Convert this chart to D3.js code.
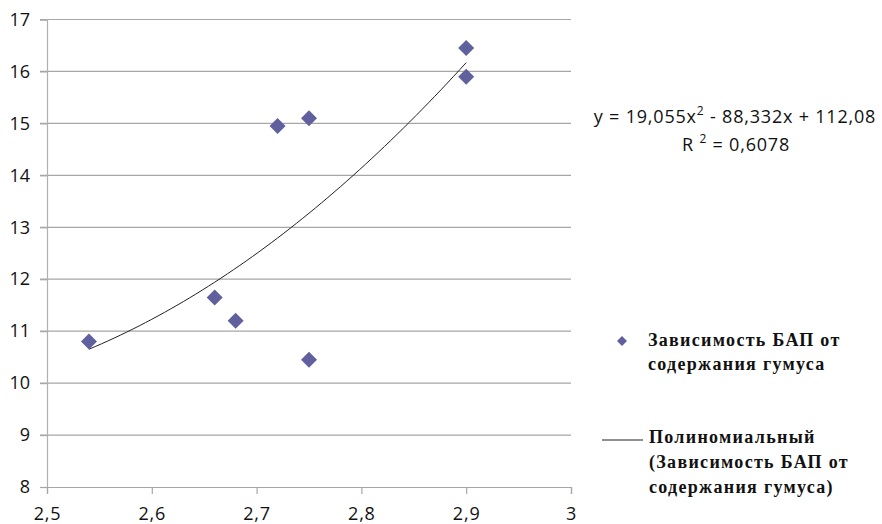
<!DOCTYPE html>
<html><head><meta charset="utf-8">
<script src="https://cdn.jsdelivr.net/npm/d3@7"></script>
<style>
html,body{margin:0;padding:0;background:#fff;}
svg{display:block;}
</style></head>
<body>
<svg id="c" width="882" height="524"></svg>
<script>
const xValues = [2.54, 2.66, 2.68, 2.72, 2.75, 2.75, 2.9, 2.9];
const yValues = [10.8, 11.65, 11.2, 14.95, 15.1, 10.45, 16.45, 15.9];
const xTicks = [2.5, 2.6, 2.7, 2.8, 2.9, 3];
const yTicks = [8, 9, 10, 11, 12, 13, 14, 15, 16, 17];
const trendCoefs = [19.055, -88.332, 112.08];
const equationText = ["y = 19,055x", "2", " - 88,332x + 112,08"];
const r2Text = "0,6078";
const legendSeries = ["Зависимость БАП от", "содержания гумуса"];
const legendTrend = ["Полиномиальный", "(Зависимость БАП от", "содержания гумуса)"];

(function () {
const svg = d3.select("#c");
const pLeft = 47, pRight = 571, pTop = 19.5, pBottom = 487;
const x = d3.scaleLinear().domain([2.5, 3]).range([pLeft, pRight]);
const y = d3.scaleLinear().domain([8, 17]).range([pBottom, pTop]);
const fmt = v => String(v).replace(".", ",");
const sansFont = "'Open Sans', 'Noto Sans', sans-serif";

// gridlines
svg.append("g").selectAll("line").data(yTicks.filter(t => t !== 8)).join("line")
  .attr("x1", pLeft - 7).attr("x2", pRight)
  .attr("y1", d => y(d)).attr("y2", d => y(d))
  .attr("stroke", "#a6a6a6").attr("stroke-width", 1.2);

// y axis
const yAxis = svg.append("g").attr("transform", `translate(${pLeft},0)`)
  .call(d3.axisLeft(y).tickValues(yTicks).tickSize(7).tickPadding(10).tickFormat(fmt));
yAxis.select(".domain").attr("stroke", "#b0b0b0").attr("stroke-width", 1.2);
yAxis.selectAll(".tick line").attr("stroke", "#a6a6a6").attr("stroke-width", 1.2);
yAxis.selectAll("text").attr("font-family", sansFont).attr("font-size", 18).attr("fill", "#111");

// x axis
const xAxis = svg.append("g").attr("transform", `translate(0,${pBottom})`)
  .call(d3.axisBottom(x).tickValues(xTicks).tickSize(7).tickPadding(13).tickFormat(fmt));
xAxis.select(".domain").attr("stroke", "#a6a6a6").attr("stroke-width", 1.2);
xAxis.selectAll(".tick line").attr("stroke", "#a6a6a6").attr("stroke-width", 1.2);
xAxis.selectAll("text").attr("font-family", sansFont).attr("font-size", 18)
  .attr("letter-spacing", 0.8).attr("fill", "#111");

// trendline
const xmin = d3.min(xValues), xmax = d3.max(xValues);
const trendPts = d3.range(0, 61).map(i => {
  const xv = xmin + (xmax - xmin) * i / 60;
  return [xv, trendCoefs[0] * xv * xv + trendCoefs[1] * xv + trendCoefs[2]];
});
svg.append("path").datum(trendPts)
  .attr("d", d3.line().x(d => x(d[0])).y(d => y(d[1])))
  .attr("fill", "none").attr("stroke", "#222").attr("stroke-width", 1);

// points
const pts = xValues.map((v, i) => [v, yValues[i]]);
svg.append("g").selectAll("path").data(pts).join("path")
  .attr("d", d3.symbol().type(d3.symbolSquare).size(128))
  .attr("transform", d => `translate(${x(d[0])},${y(d[1])}) rotate(45)`)
  .attr("fill", "#60609e");

// equation
const eq = svg.append("text").attr("x", 735).attr("y", 123).attr("text-anchor", "middle")
  .attr("font-family", sansFont).attr("font-size", 18).attr("letter-spacing", 0.8).attr("fill", "#111");
eq.append("tspan").text(equationText[0]);
eq.append("tspan").attr("dy", -8).attr("font-size", 12).text(equationText[1]);
eq.append("tspan").attr("dy", 8).text(equationText[2]);
const r2 = svg.append("text").attr("x", 736).attr("y", 151).attr("text-anchor", "middle")
  .attr("font-family", sansFont).attr("font-size", 18).attr("letter-spacing", 0.8).attr("fill", "#111");
r2.append("tspan").text("R ");
r2.append("tspan").attr("dy", -8).attr("font-size", 12).text("2");
r2.append("tspan").attr("dy", 8).text(" = " + r2Text);

// legend
const serif = "'Liberation Serif', 'DejaVu Serif', serif";
svg.append("path").attr("d", d3.symbol().type(d3.symbolSquare).size(50))
  .attr("transform", "translate(622,341) rotate(45)").attr("fill", "#60609e");
svg.append("g").selectAll("text").data(legendSeries).join("text")
  .attr("x", 648).attr("y", (d, i) => 346 + i * 24)
  .attr("font-family", serif).attr("font-weight", "bold").attr("font-size", 18)
  .attr("letter-spacing", 1.3).attr("fill", "#111").text(d => d);

svg.append("line").attr("x1", 602).attr("x2", 643).attr("y1", 440).attr("y2", 440)
  .attr("stroke", "#222").attr("stroke-width", 1);
svg.append("g").selectAll("text").data(legendTrend).join("text")
  .attr("x", 649).attr("y", (d, i) => 443 + i * 25)
  .attr("font-family", serif).attr("font-weight", "bold").attr("font-size", 18)
  .attr("letter-spacing", 1.3).attr("fill", "#111").text(d => d);
})();
</script>
</body></html>
